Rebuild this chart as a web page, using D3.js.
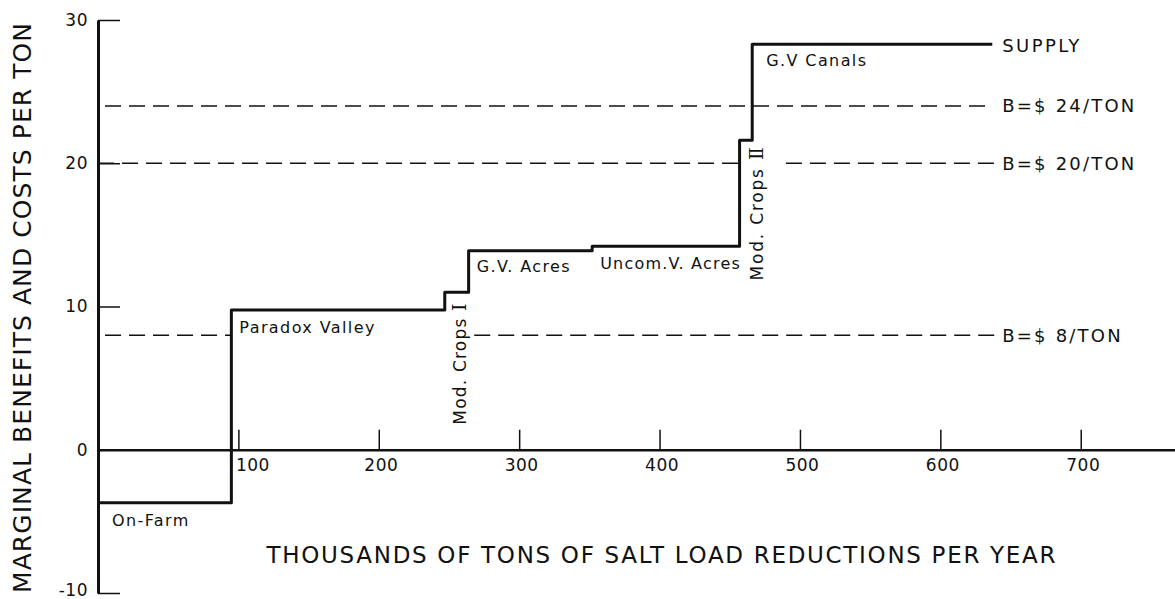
<!DOCTYPE html>
<html>
<head>
<meta charset="utf-8">
<script src="https://cdn.jsdelivr.net/npm/d3@7"></script>
<style>
  body { margin: 0; background: #fff; }
  svg text { font-family: "DejaVu Sans", sans-serif; fill: #111; }
  .axis path, .axis line { stroke: #111; }
  .axis text { font-size: 17px; letter-spacing: 0.5px; }
</style>
</head>
<body>
<div id="chart"></div>
<script>
// supply curve: cumulative salt reduction (thousand tons) where each program ends, and its cost ($/ton)
const programs = ["On-Farm", "Paradox Valley", "Mod. Crops I", "G.V. Acres", "Uncom.V. Acres", "Mod. Crops II", "G.V  Canals"];
const stepEnds = [95, 247, 264, 352, 457, 466, 637];
const stepCosts = [-3.7, 9.75, 11, 13.9, 14.2, 21.6, 28.3];

// marginal benefit levels
const benefitLevels = [24, 20, 8];
const benefitLabels = ["B=$ 24/TON", "B=$ 20/TON", "B=$ 8/TON"];
// dashed spans in thousand tons (broken where labels sit)
const benefitSpans = [[[5, 634]], [[0, 457], [490, 639]], [[5, 95], [268, 643]]];

const xTicks = [100, 200, 300, 400, 500, 600, 700];
const yTicks = [-10, 0, 10, 20, 30];

const width = 1175, height = 599;

const svg = d3.select("#chart").append("svg")
  .attr("width", width)
  .attr("height", height);

const x = d3.scaleLinear().domain([0, 770]).range([98, 1179]);
const y = d3.scaleLinear().domain([-10, 30]).range([593, 20]);

// benefit lines
benefitLevels.forEach((b, i) => {
  benefitSpans[i].forEach(s => {
    svg.append("line")
      .attr("x1", x(s[0])).attr("x2", x(s[1]))
      .attr("y1", y(b)).attr("y2", y(b))
      .attr("stroke", "#111")
      .attr("stroke-width", 1.5)
      .attr("stroke-dasharray", "16,8")
  })
})

svg.selectAll(".blabel")
  .data(benefitLevels)
  .enter().append("text")
  .attr("class", "blabel")
  .attr("x", x(stepEnds[stepEnds.length - 1]) + 10)
  .attr("y", d => y(d))
  .attr("dy", "0.36em")
  .style("font-size", "18px")
  .style("letter-spacing", "2.2px")
  .text((d, i) => benefitLabels[i])

// axes
const yAxis = d3.axisLeft(y).tickValues(yTicks).tickSize(-22).tickSizeOuter(0).tickPadding(10)
  .tickFormat(d => d < 0 ? "-" + Math.abs(d) : d)
const gy = svg.append("g")
  .attr("class", "axis y-axis")
  .attr("transform", "translate(" + x(0) + ",0)")
  .call(yAxis)
gy.select(".domain").attr("stroke-width", 3)
gy.selectAll(".tick line").attr("stroke-width", 1.5)
gy.selectAll(".tick text").attr("y", d => d < 0 ? -3 : 0)

const xAxis = d3.axisBottom(x).tickValues(xTicks).tickSize(-20).tickSizeOuter(0).tickPadding(9)
const gx = svg.append("g")
  .attr("class", "axis x-axis")
  .attr("transform", "translate(0," + y(0) + ")")
  .call(xAxis)
gx.select(".domain").attr("stroke-width", 2.5)
gx.selectAll(".tick line").attr("stroke-width", 1.5)
gx.selectAll(".tick text").attr("dx", d => d === 100 ? 14 : 2)

// supply step curve
const pts = stepCosts.map((c, i) => [i === 0 ? 0 : stepEnds[i - 1], c])
pts.push([stepEnds[stepEnds.length - 1], stepCosts[stepCosts.length - 1]])

const line = d3.line()
  .x(d => x(d[0]))
  .y(d => y(d[1]))
  .curve(d3.curveStepAfter)

svg.append("path")
  .datum(pts)
  .attr("d", line)
  .attr("fill", "none")
  .attr("stroke", "#111")
  .attr("stroke-width", 3)
  .attr("stroke-linejoin", "round")

// program labels (horizontal ones under their step)
const flat = [
  { i: 0, dx: 14, dy: 17 },
  { i: 1, dx: 8, dy: 17 },
  { i: 3, dx: 8, dy: 16 },
  { i: 4, dx: 8, dy: 17 },
  { i: 6, dx: 14, dy: 16 }
]
svg.selectAll(".plabel")
  .data(flat)
  .enter().append("text")
  .attr("class", "plabel")
  .attr("x", d => x(d.i === 0 ? 0 : stepEnds[d.i - 1]) + d.dx)
  .attr("y", d => y(stepCosts[d.i]) + d.dy)
  .attr("dy", "0.36em")
  .style("font-size", "16px")
  .style("letter-spacing", d => d.i === 4 ? "1.2px" : "1.4px")
  .text(d => programs[d.i])

// rotated labels for the crop modification steps
const rot = [
  { i: 2, cx: x((stepEnds[1] + stepEnds[2]) / 2) + 3, top: y(stepCosts[2]) + 10, num: "Ⅰ", ls: "1.2px" },
  { i: 5, cx: x(stepEnds[5]) + 5, top: y(stepCosts[5]) + 5, num: "Ⅱ", ls: "1.8px" }
]
rot.forEach(r => {
  const t = svg.append("text")
    .attr("transform", "translate(" + r.cx + "," + r.top + ") rotate(-90)")
    .attr("text-anchor", "end")
    .attr("dy", "0.36em")
    .style("font-size", "17px")
    .style("letter-spacing", r.ls)
  t.append("tspan").text("Mod. Crops ")
  t.append("tspan").style("font-family", "DejaVu Serif").style("font-size", "19px").text(r.num)
})

// SUPPLY tag
svg.append("text")
  .attr("x", x(stepEnds[stepEnds.length - 1]) + 10)
  .attr("y", y(stepCosts[stepCosts.length - 1]) + 1)
  .attr("dy", "0.36em")
  .style("font-size", "18px")
  .style("letter-spacing", "2.4px")
  .text("SUPPLY")

// axis titles
svg.append("text")
  .attr("x", 661)
  .attr("y", 555)
  .attr("dy", "0.36em")
  .attr("text-anchor", "middle")
  .attr("textLength", 789)
  .attr("lengthAdjust", "spacing")
  .style("font-size", "23px")
  .text("THOUSANDS OF TONS OF SALT LOAD REDUCTIONS PER YEAR")

svg.append("text")
  .attr("transform", "translate(22,308) rotate(-90)")
  .attr("dy", "0.36em")
  .attr("text-anchor", "middle")
  .attr("textLength", 570)
  .attr("lengthAdjust", "spacing")
  .style("font-size", "25px")
  .text("MARGINAL BENEFITS AND COSTS PER TON")
</script>
</body>
</html>
